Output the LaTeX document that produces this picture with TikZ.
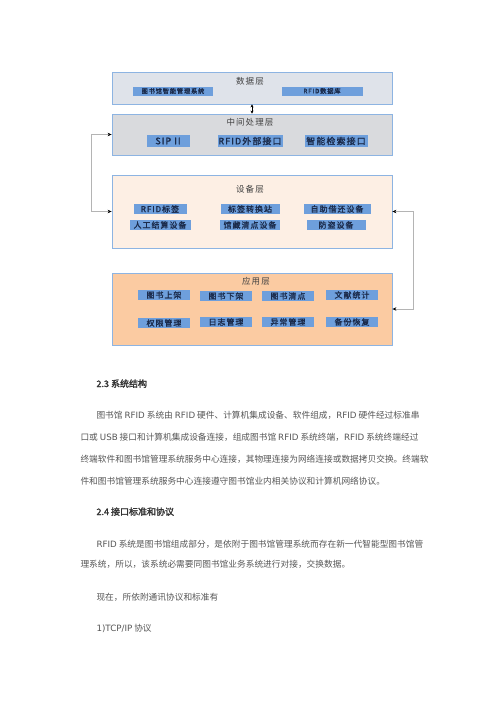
\documentclass[tikz,border=0pt]{standalone}
\usepackage{fontspec}
\setmainfont{Noto Sans CJK SC}[AutoFakeBold=2]
\newfontfamily\latfont{DejaVu Sans}
\newfontfamily\tagfont{Noto Sans CJK SC}[LetterSpace=12,AutoFakeBold=1.5]
\newcommand\ltn[1]{{\latfont #1}}
\usetikzlibrary{arrows.meta}

\definecolor{laybord}{HTML}{8DB4E2}
\definecolor{datafill}{HTML}{DFE3EA}
\definecolor{midfill}{HTML}{D9DADD}
\definecolor{devfill}{HTML}{FDEFE4}
\definecolor{appfill}{HTML}{FBCBA2}
\definecolor{tagfill}{HTML}{6E9FDC}
\definecolor{tagtext}{HTML}{1B2B4B}
\definecolor{linkgray}{HTML}{B4B4B4}
\definecolor{bodytext}{HTML}{555555}

\begin{document}
\begin{tikzpicture}[x=1pt, y=-1pt,
    layer/.style={draw=laybord, line width=0.8pt, minimum width=280pt, inner sep=0pt},
    title/.style={text=black!75, font=\tagfont\fontsize{8.5}{9}\selectfont},
    tag/.style={fill=tagfill, text=tagtext, inner sep=0pt, minimum height=10pt,
      font=\tagfont\bfseries\fontsize{8}{8}\selectfont},
    smalltag/.style={tag, minimum height=9pt, font=\tagfont\bfseries\fontsize{6.3}{6.3}\selectfont},
    bigtag/.style={tag, minimum height=12pt, font=\tagfont\bfseries\fontsize{9}{9}\selectfont},
    dbl/.style={line width=0.6pt, {Stealth[length=3pt,width=3pt]}-{Stealth[length=3pt,width=3pt]}},
    link/.style={draw=linkgray, line width=1pt,
      {Stealth[length=4pt,width=3.5pt,color=black]}-{Stealth[length=4pt,width=3.5pt,color=black]}},
    head/.style={anchor=base west, text=black!80, font=\bfseries\fontsize{9}{9}\selectfont},
    body/.style={anchor=base west, text=bodytext, font=\fontsize{8.7}{9}\selectfont}]
  \useasboundingbox (0,0) rectangle (500,707);

  % layers
  \node[layer, fill=datafill, minimum height=32pt] (data) at (252,88) {};
  \node[layer, fill=midfill, minimum height=41pt] (mid) at (252,134.5) {};
  \node[layer, fill=devfill, minimum height=73pt] (dev) at (252,211.5) {};
  \node[layer, fill=appfill, minimum height=72pt] (app) at (252,309) {};

  \node[title] (datat) at (250,81) {数据层};
  \node[title] (midt) at (250,122) {中间处理层};
  \node[title] (devt) at (250,189) {设备层};
  \node[title] (appt) at (256,281) {应用层};

  % data layer
  \node[smalltag, minimum width=80pt] (d1) at (173,91) {图书馆智能管理系统};
  \node[smalltag, minimum width=81pt] (d2) at (322,91) {RFID数据库};

  % middle layer
  \node[bigtag, minimum width=43pt] (m1) at (168,141) {SIP II};
  \node[bigtag, minimum width=65pt] (m2) at (250,141) {RFID外部接口};
  \node[bigtag, minimum width=63pt] (m3) at (336,141) {智能检索接口};

  % device layer
  \node[tag, minimum width=53pt] (e1) at (160,209) {RFID标签};
  \node[tag, minimum width=59pt] (e2) at (250,209) {标签转换站};
  \node[tag, minimum width=67pt] (e3) at (337,209) {自助借还设备};
  \node[tag, minimum width=61pt] (e4) at (160,225) {人工结算设备};
  \node[tag, minimum width=60pt] (e5) at (250,225) {馆藏清点设备};
  \node[tag, minimum width=59pt] (e6) at (336,225) {防盗设备};

  % application layer
  \node[tag, minimum width=52pt] (a1) at (164,295) {图书上架};
  \node[tag, minimum width=52pt] (a2) at (226,296) {图书下架};
  \node[tag, minimum width=52pt] (a3) at (288,296) {图书清点};
  \node[tag, minimum width=52pt] (a4) at (352,295) {文献统计};
  \node[tag, minimum width=52pt] (a5) at (164,323) {权限管理};
  \node[tag, minimum width=52pt] (a6) at (226,322) {日志管理};
  \node[tag, minimum width=52pt] (a7) at (288,322) {异常管理};
  \node[tag, minimum width=52pt] (a8) at (352,322) {备份恢复};

  % connectors
  \draw[dbl] (data.south) -- (mid.north);
  \draw[link] (mid.west) -- ++(-20,0) |- (dev.west);
  \draw[link] (dev.east) -- ++(21,0) |- (app.east);

  % text below
  \node[head] (h23) at (93,387) {2.3 系统结构};
  \node[body] (p1) at (93,418) {图书馆 \ltn{RFID} 系统由 \ltn{RFID} 硬件、计算机集成设备、软件组成，\ltn{RFID} 硬件经过标准串};
  \node[body] (p2) at (77,440) {口或 \ltn{USB} 接口和计算机集成设备连接，组成图书馆 \ltn{RFID} 系统终端，\ltn{RFID} 系统终端经过};
  \node[body] (p3) at (77,462) {终端软件和图书馆管理系统服务中心连接，其物理连接为网络连接或数据拷贝交换。终端软};
  \node[body] (p4) at (77,484) {件和图书馆管理系统服务中心连接遵守图书馆业内相关协议和计算机网络协议。};

  \node[head] (h24) at (93,515) {2.4 接口标准和协议};
  \node[body] (q1) at (93,547) {\ltn{RFID} 系统是图书馆组成部分，是依附于图书馆管理系统而存在新一代智能型图书馆管};
  \node[body] (q2) at (77,567) {理系统，所以，该系统必需要同图书馆业务系统进行对接，交换数据。};
  \node[body] (q3) at (93,600) {现在，所依附通讯协议和标准有};
  \node[body] (q4) at (93,631) {\ltn{1)TCP/IP} 协议};
\end{tikzpicture}
\end{document}
